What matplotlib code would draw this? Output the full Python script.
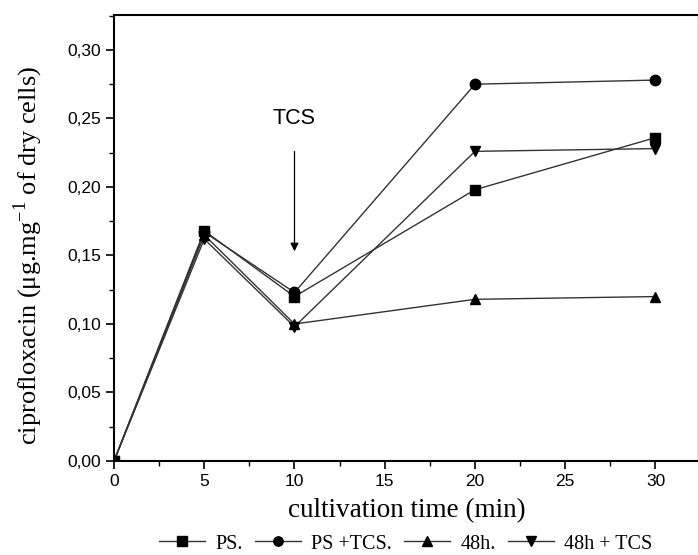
import numpy as np
import matplotlib.pyplot as plt
from matplotlib.ticker import MultipleLocator

# data
time_min = [0, 5, 10, 20, 30]
ps = [0.0, 0.168, 0.120, 0.198, 0.236]
ps_tcs = [0.0, 0.167, 0.123, 0.275, 0.278]
h48 = [0.0, 0.165, 0.100, 0.118, 0.120]
h48_tcs = [0.0, 0.162, 0.098, 0.226, 0.228]

series = [
    (ps, 's', 'PS.'),
    (ps_tcs, 'o', 'PS +TCS.'),
    (h48, '^', '48h.'),
    (h48_tcs, 'v', '48h + TCS'),
]

fig = plt.figure(figsize=(6.98, 5.55), dpi=100)
ax = fig.add_axes([114 / 698, 1 - 461 / 555, (697 - 114) / 698, (461 - 15) / 555])

for values, marker, label in series:
    ax.plot(time_min, values, color='#333333', lw=1.0, marker=marker,
            markersize=7.5, markerfacecolor='black', markeredgecolor='black',
            label=label)

ax.set_xlim(0, 32.3)
ax.set_ylim(0, 0.3255)
ax.xaxis.set_major_locator(MultipleLocator(5))
ax.xaxis.set_minor_locator(MultipleLocator(2.5))
yticks = np.arange(0, 0.31, 0.05)
ax.set_yticks(yticks)
ax.set_yticklabels([f"{v:.2f}".replace('.', ',') for v in yticks])
ax.yaxis.set_minor_locator(MultipleLocator(0.025))
ax.tick_params(which='major', direction='out', length=6, width=1.2,
               labelsize=12.5, labelfontfamily='Liberation Sans')
ax.tick_params(which='minor', direction='out', length=3.5, width=1.0)
ax.tick_params(top=False, right=False)
for side in ['left', 'bottom', 'top']:
    ax.spines[side].set_linewidth(1.5)
ax.spines['right'].set_linewidth(0.5)
ax.spines['right'].set_color('#cccccc')

ax.set_xlabel('cultivation time (min)', family='Liberation Serif', fontsize=19.5)
ax.set_ylabel(r'ciprofloxacin ($\mathregular{\mu}$g.mg$^{\mathregular{-1}}$ of dry cells)',
              family='Liberation Serif', fontsize=19)
ax.xaxis.set_label_coords(0.5026, -0.112)
ax.xaxis.label.set_va('center')
ax.yaxis.set_label_coords(-0.1475, 0.462)
ax.yaxis.label.set_va('center')

ax.annotate('', xy=(10, 0.151), xytext=(10, 0.228),
            arrowprops=dict(arrowstyle='-|>', color='black', lw=0.9, mutation_scale=12))
ax.text(10, 0.250, 'TCS', ha='center', va='center', family='Liberation Sans', fontsize=15.5)

ax.legend(loc='center', bbox_to_anchor=(0.5, -0.186), ncol=4, frameon=False,
          prop={'family': 'Liberation Serif', 'size': 14.5}, handlelength=2.3,
          handletextpad=0.5, columnspacing=0.6, markerscale=0.9, borderaxespad=0)

fig.savefig('out.png', dpi=100)
